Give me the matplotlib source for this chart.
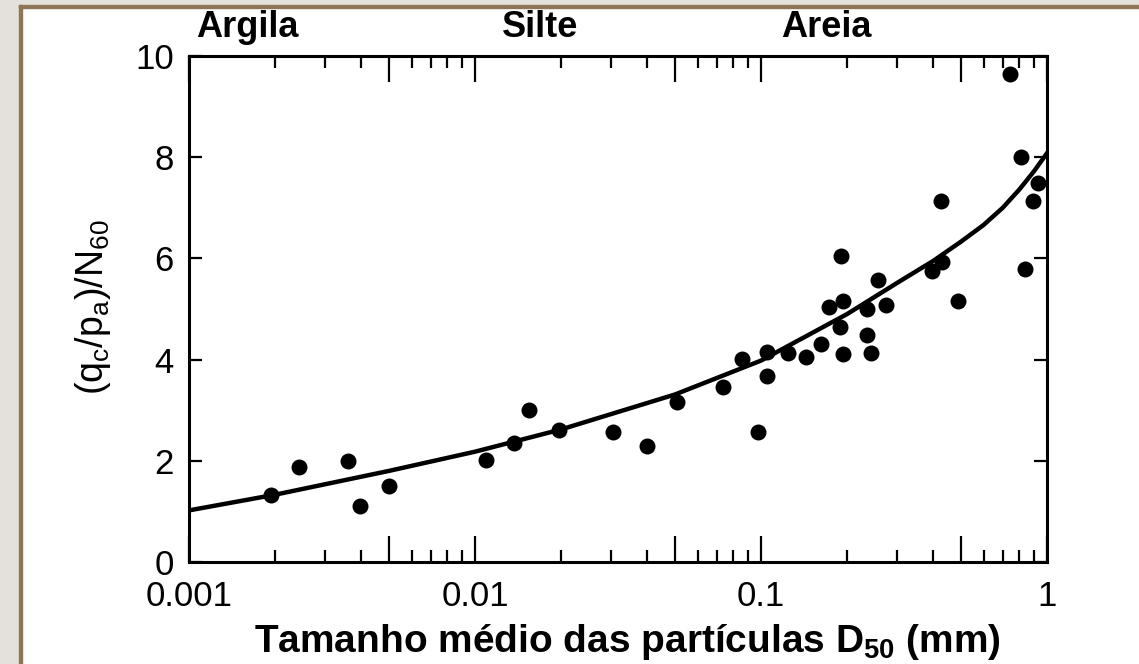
import matplotlib
matplotlib.use('Agg')
import matplotlib.pyplot as plt
from matplotlib.patches import Rectangle
from matplotlib import transforms

# D50 (mm) and (qc/pa)/N60 for each test point
d50 = [0.00193, 0.00243, 0.00359, 0.00395, 0.00499, 0.0109, 0.0137, 0.0155, 0.0197,
       0.0304, 0.040, 0.0509, 0.0736, 0.0857, 0.0979, 0.1046, 0.1046, 0.1238, 0.1442,
       0.1617, 0.1725, 0.1934, 0.1909, 0.1884, 0.1934, 0.2351, 0.2351, 0.2428, 0.2561,
       0.2737, 0.3948, 0.4311, 0.4276, 0.490, 0.7416, 0.8141, 0.8362, 0.894, 0.9305]
ratio = [1.33, 1.88, 1.99, 1.11, 1.50, 2.01, 2.35, 3.01, 2.61,
         2.57, 2.29, 3.17, 3.46, 4.02, 2.56, 3.68, 4.16, 4.14, 4.05,
         4.30, 5.03, 5.15, 6.05, 4.64, 4.11, 5.00, 4.48, 4.14, 5.57,
         5.07, 5.75, 5.93, 7.14, 5.15, 9.65, 8.00, 5.80, 7.13, 7.50]

# trend curve
curve_d = [0.001, 0.002, 0.005, 0.01, 0.02, 0.05, 0.1, 0.2, 0.3, 0.4, 0.5, 0.6, 0.7, 0.8, 0.9, 1.0]
curve_y = [1.02, 1.33, 1.80, 2.18, 2.62, 3.31, 3.98, 4.90, 5.52, 5.95, 6.33, 6.66, 7.00, 7.36, 7.72, 8.08]

zones = ['Argila', 'Silte', 'Areia']
zone_x = [0.0016, 0.0169, 0.169]

xtick_pos = [0.001, 0.005, 0.01, 0.05, 0.1, 0.5, 1]
xtick_lab = ['0.001', '', '0.01', '', '0.1', '', '1']
yticks = [0, 2, 4, 6, 8, 10]

plt.rcParams['font.family'] = ['Liberation Sans', 'DejaVu Sans']
plt.rcParams['mathtext.default'] = 'regular'
bold_font = ['Liberation Sans', 'DejaVu Sans']

W, H = 1139, 664
fig = plt.figure(figsize=(W / 100, H / 100), dpi=100)
fig.patch.set_facecolor('white')

# slide frame: grey margin with a brown edge on the left and top
grey = '#e4e1dc'
brown = '#8c7656'
fig.patches.append(Rectangle((0, 0), 19 / W, 1, transform=fig.transFigure, color=grey, zorder=0))
fig.patches.append(Rectangle((0, 1 - 5 / H), 1, 5 / H, transform=fig.transFigure, color=grey, zorder=0))
fig.patches.append(Rectangle((19 / W, 0), 2.5 / W, 1 - 5 / H, transform=fig.transFigure, color=brown, zorder=1))
fig.patches.append(Rectangle((19 / W, 1 - 7.5 / H), 1 - 19 / W, 2.5 / H, transform=fig.transFigure, color=brown, zorder=1))

ax = fig.add_axes([189 / W, 1 - 562 / H, 858 / W, 506 / H])
ax.set_xscale('log')
ax.set_xlim(0.001, 1)
ax.set_ylim(0, 10)

ax.plot(curve_d, curve_y, color='black', lw=3.2, zorder=2)
ax.plot(d50, ratio, 'o', ms=11.5, color='black', mec='none', zorder=3)

ax.set_xticks(xtick_pos)
ax.set_xticklabels(xtick_lab)
minor = [k * 10.0 ** e for e in (-3, -2, -1) for k in (2, 3, 4, 6, 7, 8, 9)]
ax.set_xticks(minor, minor=True)
ax.set_xticklabels([], minor=True)
ax.set_yticks(yticks)

ax.tick_params(axis='x', which='major', direction='in', length=19, width=1.6,
               top=True, labelsize=25, pad=13)
ax.tick_params(axis='x', which='minor', direction='in', length=8.5, width=1.6, top=True)
ax.tick_params(axis='y', which='major', direction='in', length=9.5, width=1.6,
               right=True, labelsize=25, pad=11)
for sp in ax.spines.values():
    sp.set_linewidth(2.2)

fig.text(93 / W, 1 - 307 / H, r'(q$_c$/p$_a$)/N$_{60}$', rotation=90,
         ha='center', va='center', fontsize=27)

fig.text(627 / W, 1 - 652 / H, r'Tamanho médio das partículas D$_{50}$ (mm)',
         ha='center', va='baseline', fontsize=28, fontweight='bold', family=bold_font)

tr = transforms.blended_transform_factory(ax.transData, fig.transFigure)
for name, x in zip(zones, zone_x):
    fig.text(x, 1 - 37 / H, name, transform=tr, ha='center', va='baseline',
             fontsize=26, fontweight='bold', family=bold_font)

fig.savefig('out.png', dpi=100)
